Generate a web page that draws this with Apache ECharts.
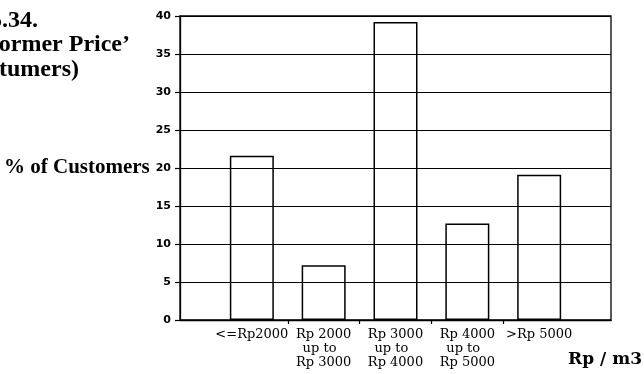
<!DOCTYPE html>
<html>
<head>
<meta charset="utf-8">
<script src="https://cdn.jsdelivr.net/npm/echarts@6/dist/echarts.min.js"></script>
<style>
  html, body { margin: 0; padding: 0; background: #fff; }
  #chart { width: 644px; height: 374px; }
</style>
</head>
<body>
<div id="chart"></div>
<script>
// Price bands (Rp per m3) and share of customers in each band
var categories = [
  '<=Rp2000',
  'Rp 2000\nup to  \nRp 3000',
  'Rp 3000\nup to  \nRp 4000',
  'Rp 4000\nup to  \nRp 5000',
  '>Rp 5000'
];
var customerShare = [21.6, 7.2, 39.2, 12.7, 19.1];
var yTicks = [0, 5, 10, 15, 20, 25, 30, 35, 40];

// The x axis is laid out in half-slot steps: bars sit on even slots,
// separator ticks on the odd slots between them.
var slotCount = categories.length * 2 + 3;
var slots = [];
var slotLabels = [];
var slotValues = [];
for (var i = 0; i < slotCount; i++) {
  slots.push('s' + i);
  var k = (i - 2) / 2;
  if (i >= 2 && i % 2 === 0 && k < categories.length) {
    slotLabels.push(categories[k]);
    slotValues.push(customerShare[k]);
  } else {
    slotLabels.push('');
    slotValues.push('-');
  }
}

var chart = echarts.init(document.getElementById('chart'), null, { renderer: 'canvas' });

var titleFont = 'bold 24px "Liberation Serif"';

chart.setOption({
  animation: false,
  backgroundColor: '#fff',
  grid: {
    left: 180, right: 33, top: 16, bottom: 54,
    show: true, borderColor: '#000', borderWidth: 1.3, backgroundColor: 'transparent'
  },
  graphic: [
    { type: 'text', x: 38, y: 21, style: { text: '5.34.', textAlign: 'right', textVerticalAlign: 'middle', font: titleFont, fill: '#000' } },
    { type: 'text', x: 130, y: 45, style: { text: '\u2018Former Price\u2019', textAlign: 'right', textVerticalAlign: 'middle', font: titleFont, fill: '#000' } },
    { type: 'text', x: 79, y: 70, style: { text: '(% of Costumers)', textAlign: 'right', textVerticalAlign: 'middle', font: titleFont, fill: '#000' } },
    { type: 'text', x: 642, y: 360, style: { text: 'Rp / m3', textAlign: 'right', textVerticalAlign: 'middle', font: 'bold 17px "DejaVu Serif"', fill: '#000' } }
  ],
  xAxis: {
    type: 'category',
    data: slots,
    boundaryGap: false,
    axisLine: { lineStyle: { color: '#000', width: 1.3 } },
    axisTick: {
      show: true, length: 4, inside: false,
      lineStyle: { color: '#000', width: 1.2 },
      interval: function (index) { return index % 2 === 1 && index > 2 && index < slotCount - 3; }
    },
    axisLabel: {
      interval: 0,
      margin: 8,
      color: '#000',
      fontFamily: 'DejaVu Serif',
      fontSize: 13,
      lineHeight: 14,
      formatter: function (value, index) { return slotLabels[index]; }
    },
    splitLine: { show: false }
  },
  yAxis: {
    type: 'value',
    min: 0, max: 40, interval: 5,
    name: '% of Customers',
    nameLocation: 'middle',
    nameRotate: 0,
    nameGap: 30,
    nameTextStyle: {
      color: '#000', fontFamily: 'Liberation Serif', fontWeight: 'bold', fontSize: 21,
      align: 'right', verticalAlign: 'middle'
    },
    axisLine: { show: true, lineStyle: { color: '#000', width: 1.3 } },
    axisTick: { show: true, length: 5, lineStyle: { color: '#000', width: 1.2 } },
    axisLabel: {
      margin: 9, color: '#000', fontFamily: 'DejaVu Sans', fontWeight: 'bold', fontSize: 11,
      formatter: function (v) { return yTicks.indexOf(v) >= 0 ? String(v) : ''; }
    },
    splitLine: { show: true, lineStyle: { color: '#000', width: 1.2 } }
  },
  series: [{
    type: 'bar',
    data: slotValues,
    barWidth: 44,
    z: 3,
    itemStyle: { color: 'transparent', borderColor: '#000', borderWidth: 1.5 }
  }]
});
</script>
</body>
</html>
